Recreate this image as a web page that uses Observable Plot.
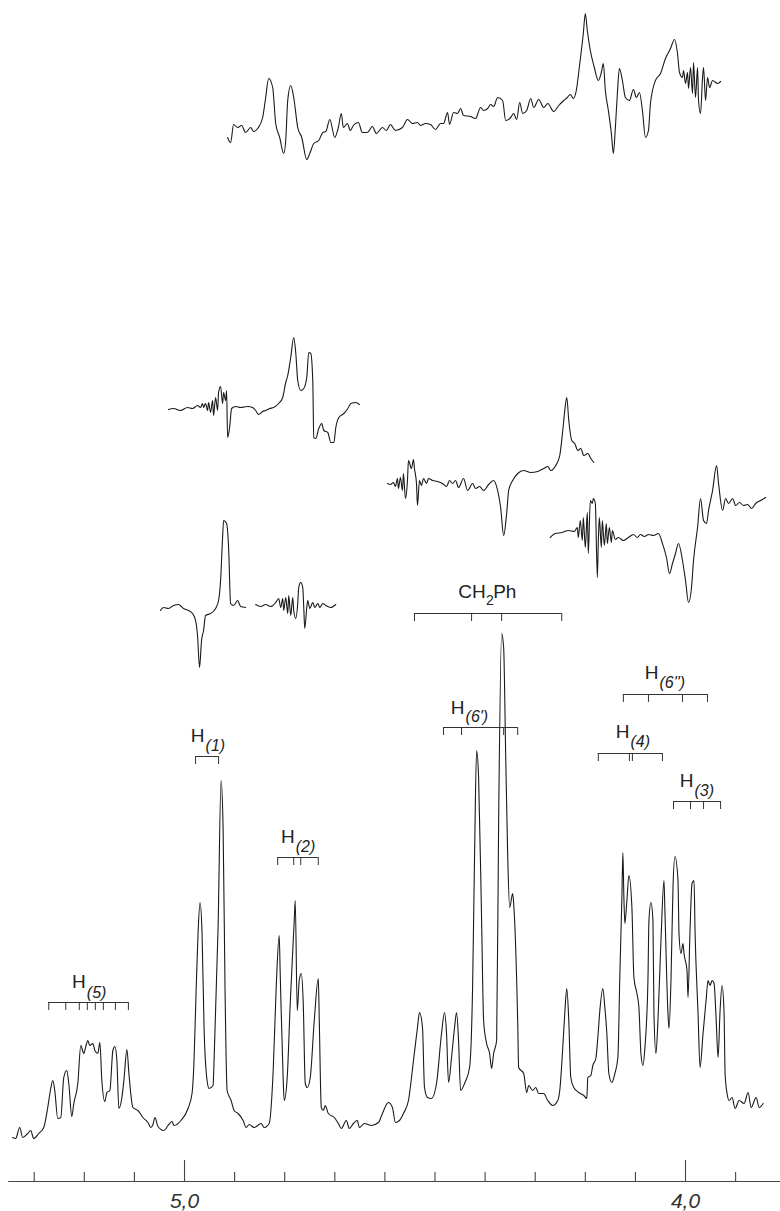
<!DOCTYPE html>
<html><head><meta charset="utf-8">
<script src="https://cdn.jsdelivr.net/npm/d3@7"></script>
<script src="https://cdn.jsdelivr.net/npm/@observablehq/plot@0.6"></script>
<style>html,body{margin:0;padding:0;background:#fff;} #chart svg{display:block;background:#fff;}</style>
</head><body><div id="chart"></div>
<script>
// Main 1H NMR spectrum: [chemical shift (ppm), intensity]
const mainSpectrum = [[5.343,-7],[5.337,-8],[5.329,3],[5.323,-7],[5.313,-3],[5.307,0],[5.301,-8],[5.291,-3],[5.281,3],[5.273,23],[5.267,42],[5.263,50],[5.259,40],[5.253,12],[5.247,13],[5.241,53],[5.235,60],[5.231,47],[5.225,14],[5.221,27],[5.213,47],[5.207,85],[5.201,77],[5.197,84],[5.193,90],[5.189,85],[5.183,87],[5.179,80],[5.173,77],[5.169,88],[5.165,50],[5.159,29],[5.155,38],[5.149,40],[5.143,80],[5.139,84],[5.135,70],[5.131,22],[5.125,33],[5.121,50],[5.115,81],[5.111,57],[5.103,23],[5.093,20],[5.083,13],[5.073,8],[5.067,3],[5.063,6],[5.059,13],[5.053,4],[5.041,0],[5.033,5],[5.025,9],[5.021,5],[5.007,10],[4.993,22],[4.985,37],[4.981,70],[4.977,137],[4.973,197],[4.969,228],[4.965,197],[4.961,103],[4.955,50],[4.951,42],[4.943,45],[4.941,70],[4.933,203],[4.927,350],[4.923,303],[4.919,137],[4.915,40],[4.907,30],[4.901,20],[4.893,17],[4.883,10],[4.877,3],[4.871,6],[4.861,3],[4.847,7],[4.841,3],[4.831,7],[4.823,60],[4.817,143],[4.811,195],[4.809,157],[4.803,50],[4.801,30],[4.795,53],[4.789,127],[4.781,210],[4.779,230],[4.775,120],[4.771,150],[4.767,157],[4.763,127],[4.759,47],[4.755,43],[4.749,53],[4.741,110],[4.733,152],[4.731,110],[4.727,23],[4.723,20],[4.719,25],[4.713,17],[4.701,13],[4.693,7],[4.687,2],[4.677,10],[4.671,2],[4.663,7],[4.655,10],[4.651,3],[4.641,7],[4.627,5],[4.613,8],[4.605,17],[4.593,28],[4.585,23],[4.579,8],[4.571,10],[4.563,17],[4.553,30],[4.543,70],[4.535,103],[4.531,118],[4.525,103],[4.521,43],[4.515,33],[4.507,32],[4.497,47],[4.487,97],[4.481,118],[4.477,97],[4.473,48],[4.467,73],[4.461,103],[4.457,118],[4.453,90],[4.449,40],[4.441,47],[4.431,63],[4.425,143],[4.421,277],[4.417,380],[4.413,353],[4.407,210],[4.403,110],[4.397,87],[4.391,77],[4.387,62],[4.383,77],[4.377,90],[4.373,310],[4.367,497],[4.363,483],[4.359,377],[4.355,277],[4.351,223],[4.345,237],[4.343,227],[4.335,110],[4.333,63],[4.323,57],[4.317,38],[4.313,45],[4.305,40],[4.299,43],[4.293,37],[4.283,37],[4.275,30],[4.265,25],[4.255,30],[4.251,40],[4.245,83],[4.241,117],[4.237,142],[4.233,110],[4.229,53],[4.223,43],[4.213,38],[4.203,35],[4.197,32],[4.195,53],[4.189,55],[4.185,65],[4.179,72],[4.175,93],[4.171,120],[4.165,142],[4.161,123],[4.157,97],[4.153,57],[4.147,48],[4.141,57],[4.135,73],[4.131,157],[4.127,233],[4.125,278],[4.123,233],[4.121,207],[4.117,230],[4.113,255],[4.107,223],[4.103,153],[4.097,137],[4.093,123],[4.089,77],[4.085,65],[4.081,83],[4.075,150],[4.073,210],[4.069,228],[4.065,210],[4.063,117],[4.059,77],[4.055,110],[4.049,190],[4.043,250],[4.041,217],[4.035,117],[4.033,102],[4.029,150],[4.025,243],[4.021,274],[4.015,250],[4.013,197],[4.009,177],[4.005,187],[4.003,177],[3.997,160],[3.995,133],[3.991,200],[3.987,247],[3.983,250],[3.981,200],[3.975,117],[3.971,63],[3.965,97],[3.959,130],[3.955,150],[3.951,145],[3.947,150],[3.943,147],[3.939,113],[3.935,73],[3.931,120],[3.927,145],[3.923,117],[3.921,57],[3.917,37],[3.913,30],[3.907,33],[3.901,22],[3.893,30],[3.883,27],[3.875,38],[3.869,23],[3.859,33],[3.853,23],[3.845,27]];

// NOE difference spectra: [ppm, intensity relative to own baseline]
const traceTop = [[4.914,-12],[4.908,-17],[4.902,1],[4.894,-2],[4.886,0],[4.878,-7],[4.868,-2],[4.862,-6],[4.854,-3],[4.844,8],[4.838,28],[4.832,47],[4.824,38],[4.818,2],[4.810,-12],[4.802,-28],[4.798,-15],[4.794,25],[4.788,40],[4.782,28],[4.774,-2],[4.766,-12],[4.756,-34],[4.750,-28],[4.742,-18],[4.732,-15],[4.724,-7],[4.718,-6],[4.710,6],[4.700,-12],[4.693,-2],[4.687,12],[4.683,-2],[4.675,2],[4.669,-5],[4.663,0],[4.653,3],[4.645,-7],[4.635,-7],[4.625,-1],[4.617,-8],[4.605,-2],[4.597,-5],[4.589,1],[4.579,-5],[4.565,-2],[4.555,6],[4.545,2],[4.535,3],[4.529,0],[4.519,2],[4.509,1],[4.499,-4],[4.489,2],[4.483,2],[4.475,13],[4.471,1],[4.463,13],[4.455,12],[4.449,17],[4.443,10],[4.429,9],[4.419,7],[4.409,18],[4.403,15],[4.395,17],[4.389,21],[4.383,19],[4.375,28],[4.365,25],[4.359,5],[4.349,8],[4.343,12],[4.337,6],[4.331,23],[4.325,12],[4.317,15],[4.309,27],[4.303,18],[4.293,26],[4.283,18],[4.275,22],[4.263,14],[4.253,20],[4.243,25],[4.236,28],[4.230,31],[4.224,27],[4.218,35],[4.212,58],[4.204,92],[4.200,112],[4.196,95],[4.190,75],[4.182,58],[4.174,45],[4.168,53],[4.164,62],[4.160,35],[4.154,15],[4.148,-8],[4.144,-28],[4.140,-2],[4.136,32],[4.132,57],[4.126,45],[4.120,28],[4.112,25],[4.104,36],[4.098,28],[4.092,33],[4.086,15],[4.080,-12],[4.074,-5],[4.070,22],[4.060,45],[4.050,52],[4.040,67],[4.030,77],[4.022,86],[4.016,72],[4.012,53],[4.006,48],[4.004,55],[4.000,42],[3.996,53],[3.994,37],[3.990,58],[3.986,32],[3.984,63],[3.980,28],[3.976,58],[3.974,25],[3.970,12],[3.966,48],[3.964,58],[3.960,25],[3.956,48],[3.952,38],[3.946,45],[3.936,42],[3.930,44]];
const traceA = [[5.032,-2],[5.022,-1],[5.008,-3],[4.994,0],[4.984,-1],[4.974,2],[4.968,0],[4.964,4],[4.962,0],[4.958,4],[4.954,-3],[4.952,5],[4.948,-5],[4.944,7],[4.942,-8],[4.938,10],[4.934,-3],[4.932,15],[4.928,21],[4.924,4],[4.922,15],[4.918,7],[4.916,17],[4.914,-30],[4.910,-20],[4.906,-1],[4.898,1],[4.888,0],[4.874,1],[4.864,0],[4.858,-3],[4.852,-7],[4.844,-4],[4.838,-3],[4.830,-1],[4.822,0],[4.812,4],[4.804,10],[4.798,25],[4.794,32],[4.788,50],[4.782,70],[4.778,55],[4.774,27],[4.768,17],[4.762,19],[4.756,30],[4.752,55],[4.748,54],[4.744,27],[4.742,-30],[4.738,-31],[4.732,-21],[4.726,-16],[4.722,-23],[4.714,-25],[4.708,-35],[4.702,-35],[4.698,-20],[4.692,-10],[4.682,-6],[4.674,-1],[4.668,4],[4.658,5],[4.651,3]];
const traceB1 = [[5.048,-4],[5.042,-1],[5.032,-2],[5.022,1],[5.012,2],[5.002,-2],[4.992,-4],[4.984,-7],[4.978,-14],[4.974,-29],[4.970,-61],[4.966,-34],[4.962,-24],[4.958,-9],[4.948,-7],[4.938,-2],[4.932,6],[4.928,26],[4.924,69],[4.922,86],[4.916,83],[4.912,59],[4.908,3],[4.902,1],[4.894,6],[4.888,0],[4.878,-1]];
const traceB2 = [[4.858,2],[4.848,0],[4.838,2],[4.828,0],[4.818,4],[4.812,8],[4.808,-1],[4.804,8],[4.802,-4],[4.798,9],[4.794,-7],[4.792,11],[4.788,-9],[4.784,9],[4.782,-4],[4.778,-12],[4.774,3],[4.772,19],[4.768,24],[4.764,19],[4.762,-1],[4.760,-22],[4.756,-1],[4.754,6],[4.750,-2],[4.744,4],[4.740,-1],[4.734,3],[4.730,-1],[4.724,3],[4.718,1],[4.708,-1],[4.698,2]];
const traceC = [[4.595,-1],[4.589,-2],[4.583,0],[4.579,-4],[4.575,4],[4.573,-6],[4.569,5],[4.565,-8],[4.563,9],[4.559,-16],[4.555,2],[4.553,22],[4.547,14],[4.543,23],[4.541,14],[4.537,-1],[4.535,-23],[4.531,2],[4.527,-3],[4.523,4],[4.517,-1],[4.513,4],[4.505,2],[4.495,1],[4.485,-1],[4.477,-4],[4.471,2],[4.465,-1],[4.459,2],[4.453,-5],[4.443,4],[4.435,-8],[4.425,-1],[4.419,-6],[4.411,-4],[4.403,-8],[4.393,-2],[4.383,2],[4.375,-8],[4.369,-25],[4.363,-53],[4.357,-31],[4.353,-8],[4.345,2],[4.335,9],[4.323,12],[4.309,10],[4.295,11],[4.283,14],[4.275,16],[4.269,12],[4.259,17],[4.251,27],[4.245,52],[4.241,72],[4.237,85],[4.233,62],[4.227,42],[4.221,39],[4.215,32],[4.209,34],[4.203,27],[4.195,29],[4.189,24],[4.183,20]];
const traceD = [[4.270,-4],[4.260,0],[4.246,1],[4.234,3],[4.222,2],[4.216,6],[4.214,-4],[4.210,13],[4.206,-7],[4.204,16],[4.200,-14],[4.196,21],[4.194,-20],[4.190,33],[4.186,30],[4.184,35],[4.180,30],[4.176,-44],[4.174,-7],[4.172,16],[4.168,-14],[4.166,13],[4.162,-12],[4.158,10],[4.156,-10],[4.152,6],[4.148,-9],[4.146,3],[4.140,-6],[4.134,-4],[4.124,-7],[4.114,-4],[4.104,-1],[4.096,-4],[4.090,-1],[4.082,-3],[4.074,-1],[4.064,-2],[4.054,0],[4.046,-10],[4.038,-24],[4.032,-40],[4.026,-30],[4.020,-20],[4.014,-10],[4.006,-27],[4.000,-47],[3.994,-69],[3.988,-54],[3.984,-27],[3.976,6],[3.970,35],[3.964,13],[3.958,10],[3.954,23],[3.946,43],[3.938,68],[3.934,50],[3.926,23],[3.920,35],[3.914,30],[3.906,35],[3.900,28],[3.892,31],[3.884,28],[3.876,29],[3.868,25],[3.860,30],[3.850,33],[3.840,36]];

// vertical offset of each difference trace (intensity units)
const traceNames   = ["top", "A", "B1", "B2", "C", "D"];
const traceOffsets = [1005, 723, 524, 524, 648, 597];

// ppm axis
const axisTicks  = [5.3, 5.2, 5.1, 5.0, 4.9, 4.8, 4.7, 4.6, 4.5, 4.4, 4.3, 4.2, 4.1, 4.0, 3.9];
const axisLabelValues = [5.0, 4.0];
const axisLabelTexts  = ["5,0", "4,0"];

// multiplet brackets: [name, from ppm, to ppm, level, tick positions]
const brackets = [
  ["H5",   5.271, 5.112, 128, [5.271, 5.237, 5.210, 5.194, 5.178, 5.162, 5.138, 5.112]],
  ["H1",   4.978, 4.932, 374, [4.978, 4.932]],
  ["H2",   4.814, 4.733, 273, [4.814, 4.782, 4.768, 4.733]],
  ["CH2Ph",4.541, 4.247, 517, [4.541, 4.427, 4.367, 4.247]],
  ["H6'",  4.483, 4.335, 403, [4.483, 4.447, 4.363, 4.335]],
  ["H6''", 4.124, 3.956, 436, [4.124, 4.074, 4.006, 3.956]],
  ["H4",   4.174, 4.046, 377, [4.174, 4.112, 4.106, 4.046]],
  ["H3",   4.024, 3.930, 329, [4.024, 3.990, 3.964, 3.930]]
];
// proton labels: [ppm of join, main text, italic subscript, main level, sub level]
const labels = [
  [5.197, "H", "(5)", 143, 133],
  [4.960, "H", "(1)", 389, 380],
  [4.780, "H", "(2)", 288, 279],
  [4.441, "H", "(6')", 417, 409],
  [4.054, "H", "(6'')", 452, 443],
  [4.112, "H", "(4)", 393, 384],
  [3.984, "H", "(3)", 344, 335]
];
// benzyl label pieces: [ppm, text, level, anchor, size]
const benzylLabel = [
  [4.399, "CH", 533, "end", 19],
  [4.398, "2", 526, "start", 14],
  [4.384, "Ph", 533, "start", 19]
];

// ---- build tables ----
const mainRows = mainSpectrum.map(([ppm, v]) => ({ppm, v}));
const traceData = {top: traceTop, A: traceA, B1: traceB1, B2: traceB2, C: traceC, D: traceD};
const diffRows = traceNames.flatMap((name, i) =>
  traceData[name].map(([ppm, v]) => ({ppm, v: v + traceOffsets[i], trace: name})));
const tickRows = axisTicks.map(t => ({ppm: t, major: axisLabelValues.includes(t)}));
const axisLabelRows = axisLabelValues.map((p, i) => ({ppm: p, text: axisLabelTexts[i]}));
const bracketRows = brackets.map(([name, from, to, level]) => ({name, from, to, level}));
const bracketTickRows = brackets.flatMap(([name, from, to, level, ticks]) => ticks.map(t => ({ppm: t, level})));
const labelRows = labels.map(([join, main, sub, ym, ys]) => ({join, main, sub, ym, ys}));
const benzylRows = benzylLabel.map(([ppm, text, y, anchor, size]) => ({ppm, text, y, anchor, size}));

const axisLevel = -51;
const axisStart = 5.351, axisEnd = 3.8104;
const ink = "#1a1a1a";
const font = "'Liberation Sans', Arial, sans-serif";

const chart = Plot.plot({
  width: 780,
  height: 1211,
  marginTop: 0, marginBottom: 0, marginLeft: 0, marginRight: 0,
  x: {domain: [5.3673, 3.8104], axis: null},
  y: {domain: [-81, 1130], axis: null},
  style: {background: "#fff"},
  marks: [
    Plot.line(mainRows, {x: "ppm", y: "v", stroke: ink, strokeWidth: 1.1, strokeLinejoin: "round", curve: "monotone-x"}),
    Plot.line(diffRows, {x: "ppm", y: "v", z: "trace", stroke: ink, strokeWidth: 1.1, strokeLinejoin: "round", curve: "monotone-x"}),
    // axis
    Plot.ruleY([axisLevel], {x1: () => axisStart, x2: () => axisEnd, stroke: "#444", strokeWidth: 1.2}),
    Plot.ruleX(tickRows, {x: "ppm", y1: () => axisLevel, y2: d => axisLevel + (d.major ? 21 : 9), stroke: "#444", strokeWidth: 1.1}),
    Plot.text(axisLabelRows, {x: "ppm", y: () => -77, text: "text", fontSize: 21, fontStyle: "italic", fill: "#333", fontFamily: font, lineAnchor: "bottom"}),
    // brackets
    Plot.ruleY(bracketRows, {y: "level", x1: "from", x2: "to", stroke: "#333", strokeWidth: 1}),
    Plot.ruleX(bracketTickRows, {x: "ppm", y1: "level", y2: d => d.level - 8, stroke: "#333", strokeWidth: 1}),
    // labels
    Plot.text(labelRows, {x: "join", y: "ym", text: "main", textAnchor: "end", lineAnchor: "bottom", fontSize: 19, fill: "#222", fontFamily: font}),
    Plot.text(labelRows, {x: "join", y: "ys", text: "sub", textAnchor: "start", lineAnchor: "bottom", fontSize: 16, fontStyle: "italic", fill: "#222", fontFamily: font, dx: 1}),
    Plot.text(benzylRows.filter(d => d.anchor === "end"), {x: "ppm", y: "y", text: "text", textAnchor: "end", lineAnchor: "bottom", fontSize: 19, fill: "#222", fontFamily: font}),
    Plot.text(benzylRows.filter(d => d.anchor === "start"), {x: "ppm", y: "y", text: "text", textAnchor: "start", lineAnchor: "bottom", fontSize: d => d.size, fill: "#222", fontFamily: font})
  ]
});
document.getElementById("chart").appendChild(chart);
</script>
</body></html>
